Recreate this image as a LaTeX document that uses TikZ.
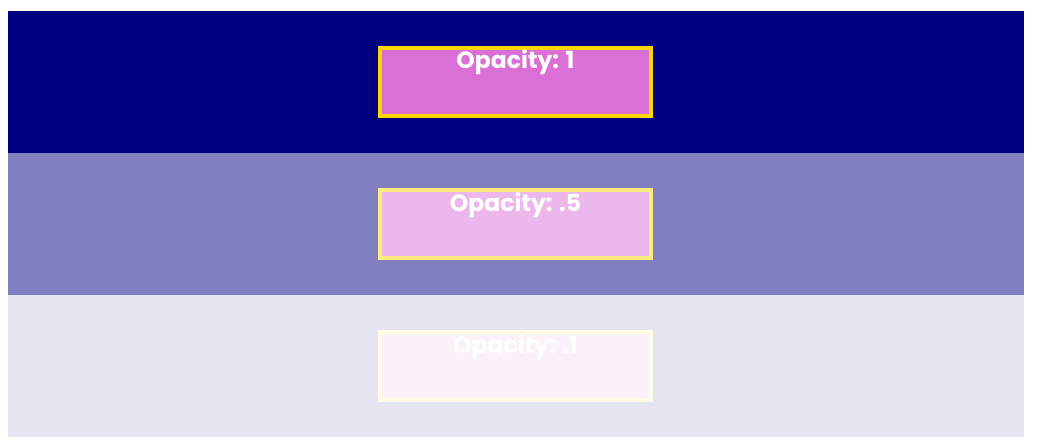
\documentclass[tikz,border=0pt]{standalone}
\usepackage{fontspec}
\setmainfont{Poppins}
\definecolor{navyc}{HTML}{000080}
\definecolor{orchidc}{HTML}{DA70D6}
\definecolor{goldc}{HTML}{FFD700}
\begin{document}
\begin{tikzpicture}[x=1pt,y=1pt,
  band/.style={fill=#1, draw=none},
  obox/.style={draw=#1, line width=4pt},
  lbl/.style={text=white, font=\fontsize{23.5}{28}\selectfont\bfseries, anchor=base, inner sep=0pt}]
\useasboundingbox[fill=white] (0,0) rectangle (1048,445);
% bands (flipped y: y = 445 - py)
\fill[navyc] (8,434) rectangle (1024,292);
\fill[navyc!50!white] (8,292) rectangle (1024,150);
\fill[navyc!10!white] (8,150) rectangle (1024,8);
% boxes
\draw[obox=goldc, fill=orchidc] (380,397) rectangle (651,329);
\draw[obox=goldc!50!white, fill=orchidc!50!white] (380,255) rectangle (651,187);
\draw[obox=goldc!10!white, fill=orchidc!10!white] (380,113) rectangle (651,45);
% labels
\node[lbl] (l1) at (515.5,376) {Opacity: 1};
\node[lbl] (l2) at (515.5,234) {Opacity: .5};
\node[lbl] (l3) at (515.5,92) {Opacity: .1};
\end{tikzpicture}
\end{document}
